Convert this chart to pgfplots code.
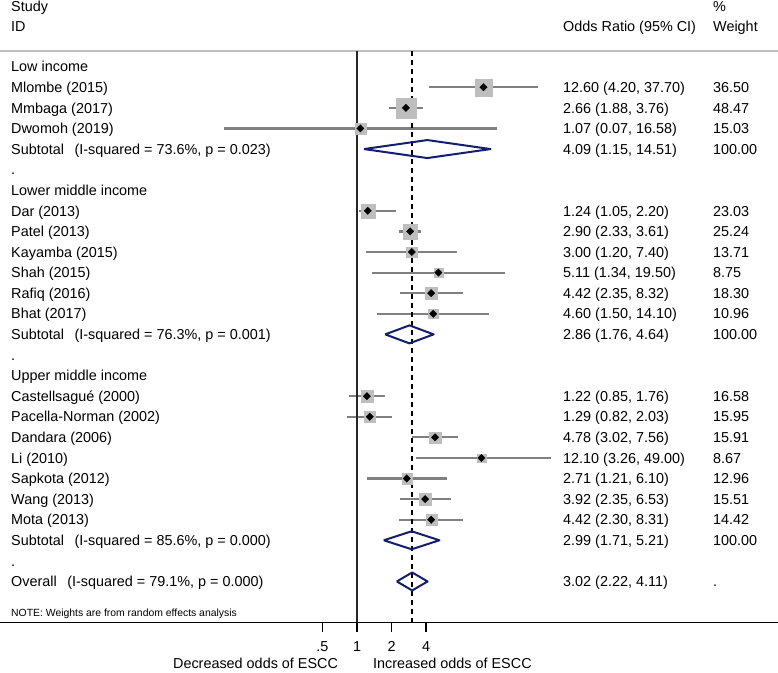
\documentclass[border=0pt]{standalone}
\usepackage{fontspec}
\setmainfont{Liberation Sans}
\usepackage{pgfplots}
\usepackage{pgfplotstable}
\pgfplotsset{compat=1.18}
\definecolor{navyd}{RGB}{20,30,110}
\definecolor{boxgray}{RGB}{190,190,190}
\definecolor{cigray}{RGB}{128,128,128}
\newcommand\lbl{\fontsize{14.4}{17}\selectfont}
\newcommand\notefont{\fontsize{10.4}{12}\selectfont}

% row, odds ratio, lower, upper, weight
\pgfplotstableread{
row or lo hi w
1 12.60 4.20 37.70 36.50
2 2.66 1.88 3.76 48.47
3 1.07 0.07 16.58 15.03
7 1.24 1.05 2.20 23.03
8 2.90 2.33 3.61 25.24
9 3.00 1.20 7.40 13.71
10 5.11 1.34 19.50 8.75
11 4.42 2.35 8.32 18.30
12 4.60 1.50 14.10 10.96
16 1.22 0.85 1.76 16.58
17 1.29 0.82 2.03 15.95
18 4.78 3.02 7.56 15.91
19 12.10 3.26 49.00 8.67
20 2.71 1.21 6.10 12.96
21 3.92 2.35 6.53 15.51
22 4.42 2.30 8.31 14.42
}\studies

\newcommand\rowtext[4]{%
  \node[anchor=base west, yshift=-5.2pt, font=\lbl, inner sep=0pt] at (axis cs:0.00097656,#1) {#2};
  \node[anchor=base west, yshift=-5.2pt, font=\lbl, inner sep=0pt] at (axis cs:61.99,#1) {#3};
  \node[anchor=base west, yshift=-5.2pt, font=\lbl, inner sep=0pt] at (axis cs:1251,#1) {#4};}

\begin{document}
\begin{tikzpicture}
\begin{axis}[
  scale only axis, width=778pt, height=571.3pt,
  xmode=log, log basis x=2, xmin=0.0007834, xmax=4600.6,
  ymin=-0.7625, ymax=26.984, y dir=reverse,
  axis x line*=bottom, axis y line=none,
  x axis line style={line width=1.5pt, black},
  xtick={0.5,1,2,4}, xticklabels={,,,},
  tick align=outside, major tick length=10pt,
  xtick style={black, line width=1.5pt},
  ytick=\empty, clip=false,
]
% header rule
\addplot[black!25, line width=2pt, forget plot] coordinates {(0.0007834,-0.7625) (4600.6,-0.7625)};

% confidence intervals and weighted boxes
\addplot[scatter, only marks, mark=square*,
  visualization depends on={1.435*sqrt(\thisrow{w}) \as \msize},
  scatter/use mapped color={draw=boxgray, fill=boxgray},
  scatter/@pre marker code/.append style={/tikz/mark size=\msize pt},
  mark options={line width=0.1pt},
  error bars/.cd, x dir=both, x explicit, error mark=none,
  error bar style={draw=cigray, line width=2.2pt}]
  table[x=or, y=row,
        x error plus expr=\thisrow{hi}-\thisrow{or},
        x error minus expr=\thisrow{or}-\thisrow{lo}] {\studies};

% reference lines
\addplot[black!85, line width=2pt] coordinates {(1,-0.7625) (1,26.984)};
\addplot[black, line width=1.4pt, dash pattern=on 5pt off 4pt] coordinates {(3.02,-0.7625) (3.02,26.984)};

% point estimates
\addplot[only marks, mark=square*, mark size=2.7pt,
  mark options={rotate=45, fill=black, draw=black, line width=0.1pt}]
  table[x=or, y=row] {\studies};

% pooled diamonds
\addplot[navyd, line width=2pt, line join=round] coordinates {(1.15,4) (4.09,3.563) (14.51,4) (4.09,4.437) (1.15,4)};
\addplot[navyd, line width=2pt, line join=round] coordinates {(1.76,13) (2.86,12.563) (4.64,13) (2.86,13.437) (1.76,13)};
\addplot[navyd, line width=2pt, line join=round] coordinates {(1.71,23) (2.99,22.563) (5.21,23) (2.99,23.437) (1.71,23)};
\addplot[navyd, line width=2pt, line join=round] coordinates {(2.22,25) (3.02,24.563) (4.11,25) (3.02,25.437) (2.22,25)};

% headers
\node[anchor=base west, font=\lbl, inner sep=0pt] at (axis cs:0.00097656,-2.695) {Study};
\node[anchor=base west, font=\lbl, inner sep=0pt] at (axis cs:0.00097656,-1.690) {ID};
\node[anchor=base west, font=\lbl, inner sep=0pt] at (axis cs:61.99,-1.690) {Odds Ratio (95\% CI)};
\node[anchor=base west, font=\lbl, inner sep=0pt] at (axis cs:1251,-2.695) {\%};
\node[anchor=base west, font=\lbl, inner sep=0pt] at (axis cs:1251,-1.690) {Weight};

\rowtext{0}{Low income}{}{}
\rowtext{1}{Mlombe (2015)}{12.60 (4.20, 37.70)}{36.50}
\rowtext{2}{Mmbaga (2017)}{2.66 (1.88, 3.76)}{48.47}
\rowtext{3}{Dwomoh (2019)}{1.07 (0.07, 16.58)}{15.03}
\rowtext{4}{Subtotal\hspace{10.5pt}(I-squared = 73.6\%, p = 0.023)}{4.09 (1.15, 14.51)}{100.00}
\rowtext{5}{.}{}{}
\rowtext{6}{Lower middle income}{}{}
\rowtext{7}{Dar (2013)}{1.24 (1.05, 2.20)}{23.03}
\rowtext{8}{Patel (2013)}{2.90 (2.33, 3.61)}{25.24}
\rowtext{9}{Kayamba (2015)}{3.00 (1.20, 7.40)}{13.71}
\rowtext{10}{Shah (2015)}{5.11 (1.34, 19.50)}{8.75}
\rowtext{11}{Rafiq (2016)}{4.42 (2.35, 8.32)}{18.30}
\rowtext{12}{Bhat (2017)}{4.60 (1.50, 14.10)}{10.96}
\rowtext{13}{Subtotal\hspace{10.5pt}(I-squared = 76.3\%, p = 0.001)}{2.86 (1.76, 4.64)}{100.00}
\rowtext{14}{.}{}{}
\rowtext{15}{Upper middle income}{}{}
\rowtext{16}{Castellsagué (2000)}{1.22 (0.85, 1.76)}{16.58}
\rowtext{17}{Pacella-Norman (2002)}{1.29 (0.82, 2.03)}{15.95}
\rowtext{18}{Dandara (2006)}{4.78 (3.02, 7.56)}{15.91}
\rowtext{19}{Li (2010)}{12.10 (3.26, 49.00)}{8.67}
\rowtext{20}{Sapkota (2012)}{2.71 (1.21, 6.10)}{12.96}
\rowtext{21}{Wang (2013)}{3.92 (2.35, 6.53)}{15.51}
\rowtext{22}{Mota (2013)}{4.42 (2.30, 8.31)}{14.42}
\rowtext{23}{Subtotal\hspace{10.5pt}(I-squared = 85.6\%, p = 0.000)}{2.99 (1.71, 5.21)}{100.00}
\rowtext{24}{.}{}{}
\rowtext{25}{Overall\hspace{10.5pt}(I-squared = 79.1\%, p = 0.000)}{3.02 (2.22, 4.11)}{.}

\node[anchor=base west, font=\notefont, inner sep=0pt] at (axis cs:0.00097656,26.712) {NOTE: Weights are from random effects analysis};

% tick labels
\node[anchor=base, font=\lbl, inner sep=0pt] at (axis cs:0.5,28.388) {.5};
\node[anchor=base, font=\lbl, inner sep=0pt] at (axis cs:1,28.388) {1};
\node[anchor=base, font=\lbl, inner sep=0pt] at (axis cs:2,28.388) {2};
\node[anchor=base, font=\lbl, inner sep=0pt] at (axis cs:4,28.388) {4};

\node[anchor=base east, font=\lbl, inner sep=0pt] at (axis cs:0.6863,29.23) {Decreased odds of ESCC};
\node[anchor=base west, font=\lbl, inner sep=0pt] at (axis cs:1.3775,29.23) {Increased odds of ESCC};

\coordinate (TL) at (axis cs:0.0007834,-3.2394);
\coordinate (BR) at (axis cs:4600.6,29.3977);
\end{axis}
\pgfresetboundingbox
\path[use as bounding box] (TL) rectangle (BR);
\end{tikzpicture}
\end{document}
